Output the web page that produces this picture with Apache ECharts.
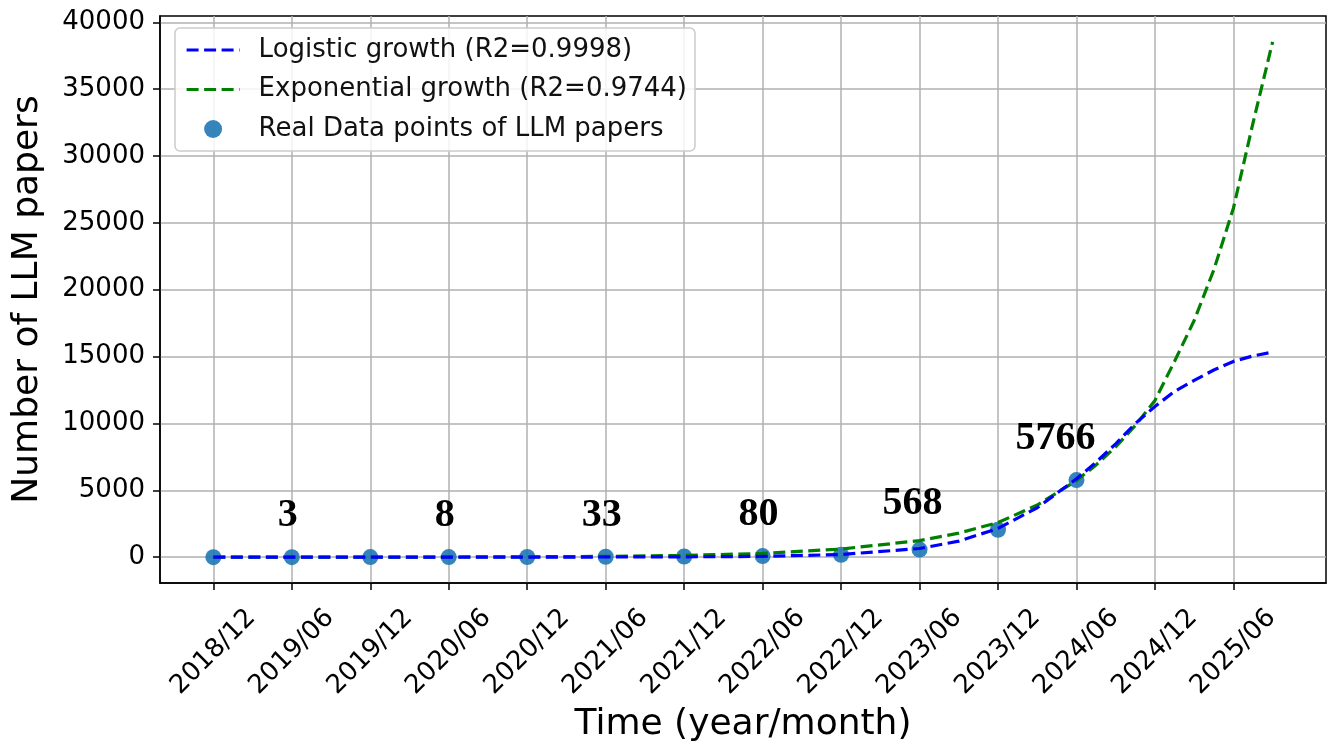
<!DOCTYPE html>
<html>
<head>
<meta charset="utf-8">
<script src="https://cdn.jsdelivr.net/npm/echarts@6/dist/echarts.min.js"></script>
<style>
html,body{margin:0;padding:0;background:#fff;}
#chart{width:1341px;height:746px;}
</style>
</head>
<body>
<div id="chart"></div>
<script>
// ---- data ----
const tickLabels = ['2018/12','2019/06','2019/12','2020/06','2020/12','2021/06','2021/12','2022/06','2022/12','2023/06','2023/12','2024/06','2024/12','2025/06'];
const tickX = [0,1,2,3,4,5,6,7,8,9,10,11,12,13];
const yTicks = [0,5000,10000,15000,20000,25000,30000,35000,40000];

const pointX = [0,1,2,3,4,5,6,7,8,9,10,11];
const pointValues = [1,3,5,8,15,33,50,80,180,568,2050,5766];
const annotatedIdx = [1,3,5,7,9,11];

const fitX = [0,1,2,3,4,5,6,7,8,9,9.5,10,10.5,11,11.25,11.5,11.75,12,12.25,12.5,12.75,13,13.25,13.5];
const logisticValues = [1,2,3,5,8,13,25,60,200,650,1200,2150,3700,5860,7100,8480,10000,11270,12400,13220,14000,14640,15050,15340];
const exponentialValues = [1,3,6,13,28,60,130,280,610,1240,1800,2590,3900,5730,6900,8250,9850,11720,14650,17700,21480,26100,32480,38540];

const seriesNames = ['Logistic growth (R2=0.9998)','Exponential growth (R2=0.9744)','Real Data points of LLM papers'];

// ---- chart ----
const chart = echarts.init(document.getElementById('chart'));
const FONT = 'DejaVu Sans';
const labelNudge = {9: [-7, -46], 11: [-21, -41]};

const annotationData = annotatedIdx.map(i => ({
  value: [pointX[i], pointValues[i]],
  label: {offset: labelNudge[i] || [-4, -41]}
}));

const dash = [12, 5.5];

const option = {
  animation: false,
  backgroundColor: '#ffffff',
  grid: {left: 160, right: 15, top: 16, bottom: 163, outerBoundsMode: 'none', containLabel: false,
         show: true, borderColor: '#000', borderWidth: 1.5, backgroundColor: 'transparent'},
  legend: {
    orient: 'vertical',
    left: 175, top: 28,
    padding: [8, 8, 8, 10],
    itemGap: 11.5,
    itemWidth: 53, itemHeight: 18,
    backgroundColor: 'rgba(255,255,255,0.85)',
    borderColor: '#cccccc', borderWidth: 1.5, borderRadius: 5,
    textStyle: {fontFamily: FONT, fontSize: 26, color: '#111', lineHeight: 28, padding: [0, 0, 0, 14]},
    data: [
      {name: seriesNames[0], itemStyle: {opacity: 0}, lineStyle: {width: 3.2, type: dash}},
      {name: seriesNames[1], itemStyle: {opacity: 0}, lineStyle: {width: 3.2, type: dash}},
      {name: seriesNames[2], icon: 'circle'}
    ]
  },
  xAxis: {
    type: 'value', min: -0.68, max: 14.18,
    name: 'Time (year/month)', nameLocation: 'middle', nameGap: 120,
    nameTextStyle: {fontFamily: FONT, fontSize: 36, color: '#000'},
    axisLine: {show: true, onZero: false, lineStyle: {color: '#000', width: 1.5}},
    axisTick: {show: true, customValues: tickX, length: 7, lineStyle: {color: '#000', width: 1.5}},
    axisLabel: {
      customValues: tickX, rotate: 45, align: 'center', verticalAlign: 'middle', margin: 69,
      fontFamily: FONT, fontSize: 26, color: '#000',
      formatter: v => tickLabels[Math.round(v)]
    },
    splitLine: {show: true, lineStyle: {color: '#b0b0b0', width: 1.5}}
  },
  yAxis: {
    type: 'value', min: -1930, max: 40470,
    name: 'Number of LLM papers', nameLocation: 'middle', nameGap: 114, nameRotate: 90,
    nameTextStyle: {fontFamily: FONT, fontSize: 36, color: '#000'},
    axisLine: {show: true, onZero: false, lineStyle: {color: '#000', width: 1.5}},
    axisTick: {show: true, customValues: yTicks, length: 7, lineStyle: {color: '#000', width: 1.5}},
    axisLabel: {customValues: yTicks, margin: 15, fontFamily: FONT, fontSize: 26, color: '#000',
                formatter: v => String(v)},
    splitLine: {show: true, lineStyle: {color: '#b0b0b0', width: 1.5}}
  },
  series: [
    {
      name: seriesNames[0], type: 'line', z: 4,
      symbol: 'none', smooth: false,
      data: fitX.map((x, i) => [x, logisticValues[i]]),
      lineStyle: {color: '#0000ff', width: 3.2, type: dash},
      itemStyle: {color: '#0000ff'}
    },
    {
      name: seriesNames[1], type: 'line', z: 3,
      symbol: 'none', smooth: false,
      data: fitX.map((x, i) => [x, exponentialValues[i]]),
      lineStyle: {color: '#008000', width: 3.2, type: dash},
      itemStyle: {color: '#008000'}
    },
    {
      name: seriesNames[2], type: 'scatter', z: 2,
      symbol: 'circle', symbolSize: 16,
      itemStyle: {color: '#1f77b4', opacity: 0.9},
      data: pointX.map((x, i) => [x, pointValues[i]])
    },
    {
      name: 'annotations', type: 'scatter', z: 5,
      symbol: 'circle', symbolSize: 1, silent: true,
      itemStyle: {color: 'rgba(0,0,0,0)', opacity: 1},
      label: {
        show: true, position: 'inside',
        fontFamily: 'Liberation Serif', fontWeight: 'bold', fontSize: 40, color: '#000',
        textBorderWidth: 0,
        formatter: p => String(p.value[1])
      },
      data: annotationData
    }
  ]
};
chart.setOption(option);
</script>
</body>
</html>
